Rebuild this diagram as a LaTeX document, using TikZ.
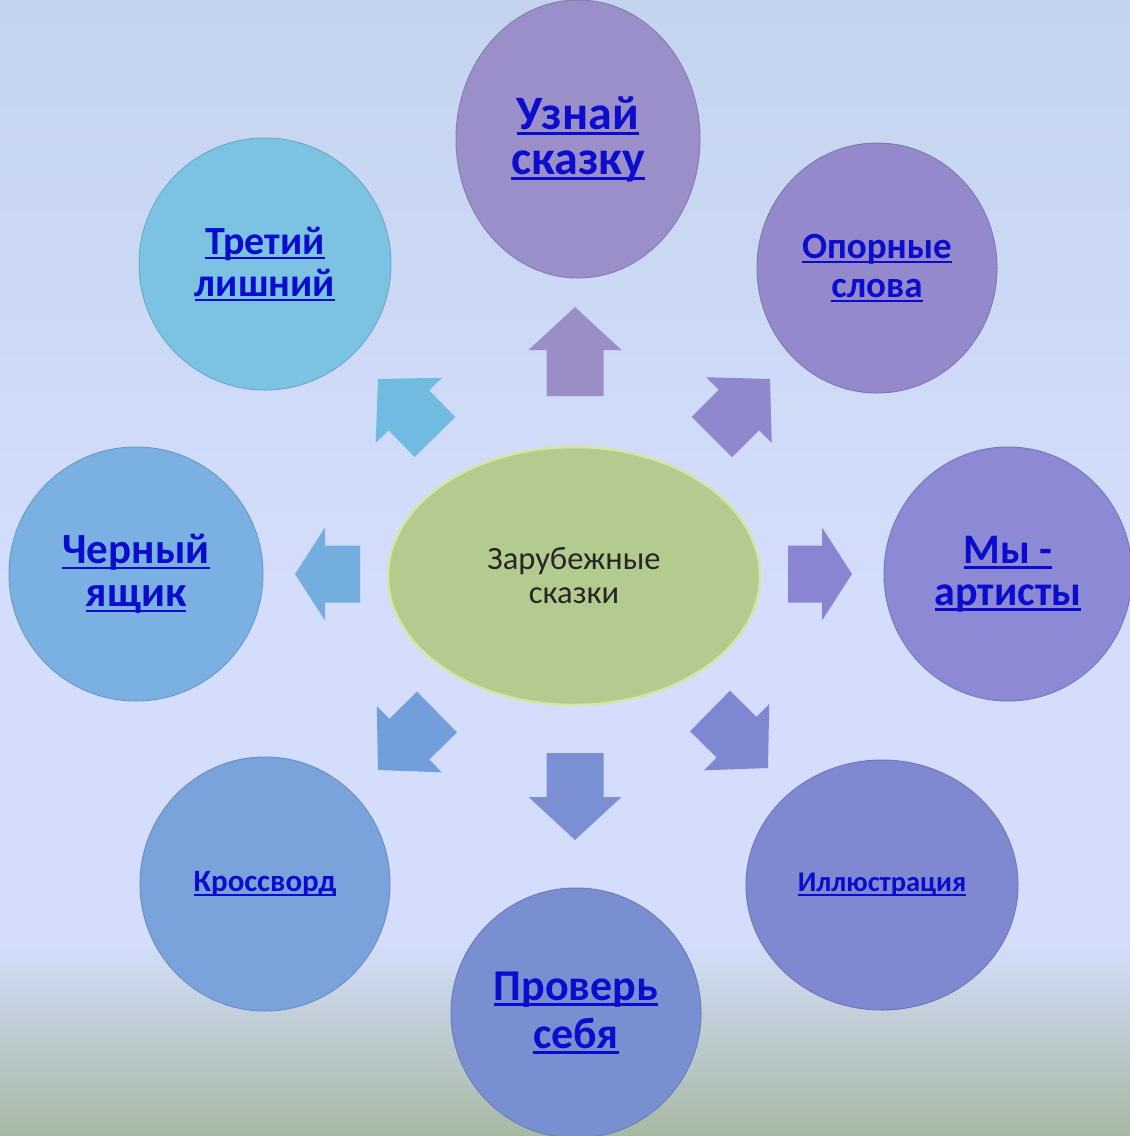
\documentclass[tikz,border=0pt]{standalone}
\usepackage{fontspec}
\setmainfont{Carlito}
\usetikzlibrary{shapes.geometric,calc}
\definecolor{bgtop}{HTML}{C4D4EE}
\definecolor{bgmid}{HTML}{D4DEFC}
\definecolor{bgbot}{HTML}{A6B8A3}
\definecolor{lnk}{RGB}{12,12,205}
\definecolor{cUz}{HTML}{9B8FC9}
\definecolor{cOp}{HTML}{948ACB}
\definecolor{cMy}{HTML}{8C8AD4}
\definecolor{cIl}{HTML}{8188D2}
\definecolor{cPr}{HTML}{7A8FD2}
\definecolor{cKr}{HTML}{7AA3DB}
\definecolor{cCh}{HTML}{7BB0E2}
\definecolor{cTr}{HTML}{7CC2E3}
\definecolor{cCe}{HTML}{B3CB8F}
\definecolor{cCeRim}{HTML}{D2E6A6}
\newcommand\lk[1]{\setbox0\hbox{#1}\leavevmode\rlap{\rule[-0.13em]{\wd0}{0.065em}}\box0}
\newcommand\blockarr[4]{%
  \coordinate (hb) at ($(#2)!#3!(#1)$);
  \fill[#4] ($(#1)!28.5pt!90:(#2)$) -- ($(hb)!28.5pt!90:(#2)$) -- ($(hb)!46.5pt!90:(#2)$) -- (#2)
    -- ($(hb)!46.5pt!-90:(#2)$) -- ($(hb)!28.5pt!-90:(#2)$) -- ($(#1)!28.5pt!-90:(#2)$) -- cycle;}
\tikzset{
  bubble/.style={ellipse, inner sep=0pt, draw=#1!88!black, line width=1pt, fill=#1,
    text=lnk, font=\bfseries, align=center},
}
\begin{document}
\begin{tikzpicture}[x=1pt,y=1pt]
\useasboundingbox (0,0) rectangle (1130,-1136);
\shade[top color=bgtop, bottom color=bgmid] (0,0) rectangle (1130,-600);
\fill[bgmid] (0,-600) rectangle (1130,-940);
\shade[top color=bgmid, bottom color=bgbot] (0,-940) rectangle (1130,-1136);

% arrows
\coordinate (uT) at (575,-396); \coordinate (uP) at (575,-307);
\coordinate (dT) at (575,-753); \coordinate (dP) at (575,-840);
\coordinate (lT) at (360,-574); \coordinate (lP) at (295,-574);
\coordinate (rT) at (788,-574); \coordinate (rP) at (852,-574);
\coordinate (nwT) at (435,-437); \coordinate (nwP) at (378,-379);
\coordinate (neT) at (712,-437); \coordinate (neP) at (770,-379);
\coordinate (swT) at (437,-712); \coordinate (swP) at (378,-770);
\coordinate (seT) at (710,-711); \coordinate (seP) at (768,-768);
\blockarr{uT}{uP}{43pt}{fill={rgb,255:red,155;green,141;blue,197}}
\blockarr{neT}{neP}{44pt}{fill={rgb,255:red,144;green,136;blue,204}}
\blockarr{rT}{rP}{30pt}{fill={rgb,255:red,138;green,133;blue,210}}
\blockarr{seT}{seP}{44pt}{fill={rgb,255:red,127;green,134;blue,210}}
\blockarr{dT}{dP}{43pt}{fill={rgb,255:red,123;green,144;blue,212}}
\blockarr{swT}{swP}{44pt}{fill={rgb,255:red,114;green,159;blue,219}}
\blockarr{lT}{lP}{30pt}{fill={rgb,255:red,116;green,174;blue,222}}
\blockarr{nwT}{nwP}{44pt}{fill={rgb,255:red,112;green,188;blue,224}}

% bubbles
\node[bubble=cUz, minimum width=244pt, minimum height=278pt,
  font=\bfseries\fontsize{48}{45}\selectfont] (uz) at (578,-139) {\lk{Узнай}\\\lk{сказку}};
\node[bubble=cOp, minimum width=240pt, minimum height=250pt,
  font=\bfseries\fontsize{37}{39}\selectfont] (op) at (877,-268) {\lk{Опорные}\\\lk{слова}};
\node[bubble=cTr, minimum width=252pt, minimum height=252pt,
  font=\bfseries\fontsize{40}{42}\selectfont] (tr) at (265,-264) {\lk{Третий}\\\lk{лишний}};
\node[bubble=cCh, minimum width=254pt, minimum height=254pt,
  font=\bfseries\fontsize{43}{43}\selectfont] (ch) at (136,-574) {\lk{Черный}\\\lk{ящик}};
\node[bubble=cMy, minimum width=248pt, minimum height=254pt,
  font=\bfseries\fontsize{42}{42}\selectfont] (my) at (1008,-574) {\lk{Мы -}\\\lk{артисты}};
\node[bubble=cKr, minimum width=250pt, minimum height=254pt,
  font=\bfseries\fontsize{31}{32}\selectfont] (kr) at (265,-884) {\lk{Кроссворд}};
\node[bubble=cIl, minimum width=272pt, minimum height=250pt,
  font=\bfseries\fontsize{28.5}{30}\selectfont] (il) at (882,-885) {\lk{Иллюстрация}};
\node[bubble=cPr, minimum width=250pt, minimum height=250pt,
  font=\bfseries\fontsize{44}{48}\selectfont] (pr) at (576,-1013) {\lk{Проверь}\\\lk{себя}};
\node[ellipse, inner sep=0pt, minimum width=372pt, minimum height=258pt, fill=cCe,
  draw=cCeRim, line width=2.5pt, align=center, text=black!85,
  font=\fontsize{32.5}{34}\selectfont]
  (ce) at (574,-576) {Зарубежные\\сказки};
\end{tikzpicture}
\end{document}
